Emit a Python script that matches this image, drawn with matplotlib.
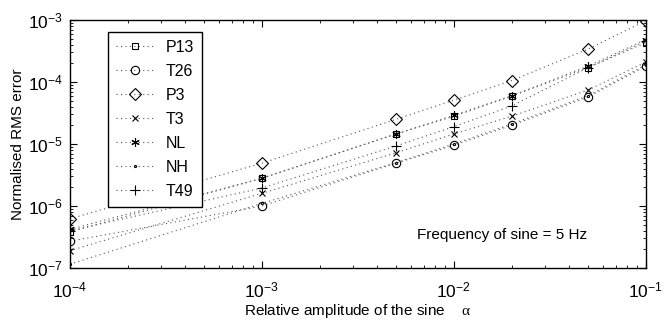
import matplotlib
matplotlib.use("Agg")
import matplotlib.pyplot as plt
from matplotlib.ticker import LogLocator, NullFormatter

plt.rcParams['font.family'] = ['Liberation Sans', 'DejaVu Sans']
plt.rcParams['mathtext.fontset'] = 'custom'
plt.rcParams['mathtext.rm'] = 'Liberation Sans'
plt.rcParams['mathtext.it'] = 'Liberation Serif'
plt.rcParams['mathtext.sf'] = 'Liberation Sans'

alpha = [1e-4, 1e-3, 5e-3, 1e-2, 2e-2, 5e-2, 1e-1]
P13 = [3.8e-7, 2.8e-6, 1.45e-5, 2.8e-5, 5.9e-5, 1.7e-4, 4.3e-4]
T26 = [2.7e-7, 1.0e-6, 4.9e-6, 9.5e-6, 2.0e-5, 5.7e-5, 1.8e-4]
P3 = [6.2e-7, 4.9e-6, 2.5e-5, 5.1e-5, 1.05e-4, 3.4e-4, 9.7e-4]
T3 = [1.9e-7, 1.6e-6, 7.2e-6, 1.45e-5, 2.8e-5, 7.4e-5, 2.1e-4]
NL = [4.2e-7, 2.8e-6, 1.45e-5, 2.9e-5, 6.0e-5, 1.8e-4, 4.8e-4]
NH = [1.15e-7, 1.1e-6, 5.0e-6, 1.0e-5, 2.1e-5, 6.0e-5, 1.9e-4]
T49 = [4.0e-7, 1.95e-6, 9.3e-6, 1.9e-5, 4.1e-5, 1.7e-4, 4.6e-4]

series = [
    ("P13", P13, 's', 5),
    ("T26", T26, 'o', 6),
    ("P3", P3, 'D', 6),
    ("T3", T3, 'x', 4.5),
    ("NL", NL, (6, 2, 0), 6),
    ("NH", NH, '.', 3),
    ("T49", T49, '+', 7),
]

fig = plt.figure(figsize=(6.65, 3.2), dpi=100)
ax = fig.add_axes([0.105, 0.1625, 0.866, 0.775])

for name, vals, mk, ms in series:
    ax.plot(alpha, vals, linestyle=(0, (1, 3)), color='#555555', linewidth=0.8,
            marker=mk, markersize=ms, markerfacecolor='none',
            markeredgecolor='black', markeredgewidth=0.8, label=name)

ax.set_xscale('log')
ax.set_yscale('log')
ax.set_xlim(1e-4, 1e-1)
ax.set_ylim(1e-7, 1e-3)

ax.xaxis.set_major_locator(LogLocator(base=10, numticks=10))
ax.yaxis.set_major_locator(LogLocator(base=10, numticks=10))
ax.xaxis.set_minor_locator(LogLocator(base=10, subs=range(2, 10), numticks=20))
ax.yaxis.set_minor_locator(LogLocator(base=10, subs=range(2, 10), numticks=20))
ax.xaxis.set_minor_formatter(NullFormatter())
ax.yaxis.set_minor_formatter(NullFormatter())

ax.tick_params(which='both', direction='in', top=True, right=True, labelsize=12.5)
ax.tick_params(which='major', length=5, width=0.8)
ax.tick_params(which='minor', length=2.5, width=0.6)
ax.tick_params(axis='x', pad=9)
ax.tick_params(axis='y', pad=5)
for sp in ax.spines.values():
    sp.set_linewidth(1.0)

ax.set_xlabel(r"Relative amplitude of the sine    $\alpha$", fontsize=11, labelpad=1)
ax.set_ylabel("Normalised RMS error", fontsize=11, labelpad=2)

ax.text(0.603, 0.133, "Frequency of sine = 5 Hz", transform=ax.transAxes,
        fontsize=11, ha='left', va='center')

leg = ax.legend(loc='upper left', bbox_to_anchor=(0.066, 0.952), fontsize=11.5,
                frameon=True, fancybox=False, edgecolor='black', framealpha=1,
                handlelength=2.4, handletextpad=0.7, labelspacing=0.56,
                borderpad=0.5, borderaxespad=0)
leg.get_frame().set_linewidth(1.0)

fig.savefig("out.png", dpi=100)
